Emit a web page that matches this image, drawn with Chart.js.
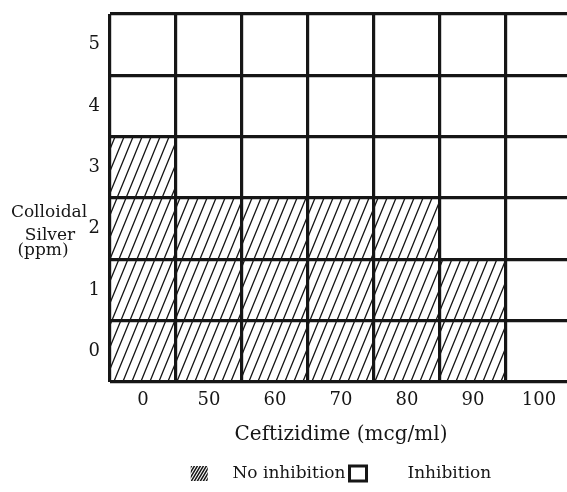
<!DOCTYPE html>
<html>
<head>
<meta charset="utf-8">
<script src="https://cdn.jsdelivr.net/npm/chart.js@4.4.1/dist/chart.umd.min.js"></script>
<style>
  html, body { margin: 0; padding: 0; background: #fff; overflow: hidden; }
  #wrap { width: 572px; height: 492px; }
</style>
</head>
<body>
<div id="wrap"><canvas id="chart"></canvas></div>
<script>
// ceftizidime doses (mcg/ml) along the bottom
const doses = ['0', '50', '60', '70', '80', '90', '100'];
// colloidal silver levels (ppm) up the side
const silverLevels = [0, 1, 2, 3, 4, 5];
// highest silver level that still shows no inhibition, per dose (-1 = none)
const noInhibitionTop = [3, 2, 2, 2, 2, 1, -1];

const FONT = "'DejaVu Serif', serif";
const INK = '#161616';

function hatch(w, h, lw) {
  const c = document.createElement('canvas');
  c.width = w; c.height = h;
  const g = c.getContext('2d');
  g.strokeStyle = INK;
  g.lineWidth = lw;
  g.beginPath();
  g.moveTo(-w, 2 * h); g.lineTo(2 * w, -h);
  g.moveTo(-2 * w, 2 * h); g.lineTo(w, -h);
  g.moveTo(0, 2 * h); g.lineTo(3 * w, -h);
  g.stroke();
  return g.createPattern(c, 'repeat');
}

const cellHatch = hatch(9, 22, 1.3);
const keyHatch = hatch(3, 5, 1.5);

const lo = silverLevels[0] - 0.5;
const hi = silverLevels[silverLevels.length - 1] + 0.5;

const hatched = noInhibitionTop.map(t => t < 0 ? null : [lo, t + 0.5]);
const clear = noInhibitionTop.map(t => [t + 0.5, hi]);

// horizontal y-axis title, written in three stacked lines
const sideTitle = {
  id: 'sideTitle',
  afterDraw(chart) {
    const ctx = chart.ctx;
    ctx.save();
    ctx.fillStyle = INK;
    ctx.font = '17px ' + FONT;
    ctx.textAlign = 'center';
    ctx.textBaseline = 'middle';
    ctx.fillText('Colloidal', 49, 213);
    ctx.fillText('Silver', 50, 236);
    ctx.fillText('(ppm)', 43, 251);
    ctx.restore();
  }
};

new Chart(document.getElementById('chart'), {
  type: 'bar',
  data: {
    labels: doses,
    datasets: [
      {
        label: 'No inhibition',
        data: hatched,
        backgroundColor: cellHatch,
        borderWidth: 0,
        barPercentage: 1,
        categoryPercentage: 1,
        grouped: false
      },
      {
        label: 'Inhibition',
        data: clear,
        backgroundColor: '#ffffff',
        borderWidth: 0,
        barPercentage: 1,
        categoryPercentage: 1,
        grouped: false
      }
    ]
  },
  options: {
    responsive: true,
    maintainAspectRatio: false,
    animation: false,
    layout: { padding: { top: 14, left: 0, right: 0, bottom: 0 } },
    plugins: {
      tooltip: { enabled: false },
      legend: {
        position: 'bottom',
        fullSize: false,
        labels: {
          font: { family: FONT, size: 17 },
          color: INK,
          boxWidth: 17,
          boxHeight: 15,
          padding: 4,
          generateLabels() {
            return [
              { text: '   No inhibition', fillStyle: keyHatch, strokeStyle: INK, lineWidth: 0, fontColor: INK, datasetIndex: 0 },
              { text: '      Inhibition', fillStyle: '#ffffff', strokeStyle: INK, lineWidth: 3, fontColor: INK, datasetIndex: 1 }
            ];
          }
        }
      }
    },
    scales: {
      x: {
        grid: { offset: true, color: INK, lineWidth: 3.2, drawTicks: false, z: 1 },
        border: { display: false },
        ticks: { color: INK, font: { family: FONT, size: 18 }, padding: 8 },
        title: {
          display: true,
          text: 'Ceftizidime (mcg/ml)',
          color: INK,
          font: { family: FONT, size: 20 },
          padding: { top: 0, bottom: 14 }
        },
        afterFit(s) { s.height = 79; }
      },
      y: {
        min: lo,
        max: hi,
        grid: { display: false, drawTicks: false },
        border: { display: false },
        ticks: { color: INK, font: { family: FONT, size: 18 }, padding: 10 },
        afterBuildTicks(s) { s.ticks = silverLevels.map(v => ({ value: v })); },
        afterFit(s) { s.width = 110; s.paddingTop = 0; s.paddingBottom = 0; }
      },
      yGrid: {
        position: 'left',
        min: lo,
        max: hi,
        grid: { color: INK, lineWidth: 3.2, drawTicks: false, z: 1 },
        border: { display: false },
        ticks: { display: false },
        afterBuildTicks(s) { s.ticks = [lo, ...silverLevels.map(v => v + 0.5)].map(v => ({ value: v })); },
        afterFit(s) { s.width = 0; s.paddingTop = 0; s.paddingBottom = 0; }
      }
    }
  },
  plugins: [sideTitle]
});
</script>
</body>
</html>
